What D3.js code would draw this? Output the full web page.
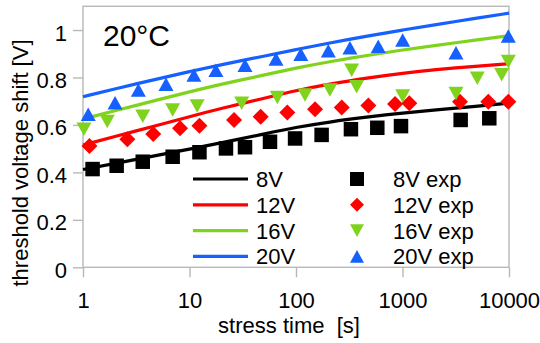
<!DOCTYPE html>
<html>
<head>
<meta charset="utf-8">
<script src="https://cdn.jsdelivr.net/npm/d3@7"></script>
<style>
  body { margin: 0; background: #fff; }
  svg { display: block; font-family: "Liberation Sans", Arial, sans-serif; }
</style>
</head>
<body>
<svg id="chart" width="540" height="343"></svg>
<script>
// measured points (stress time in s, shift in V)
const tExp8 = [1.23, 2.07, 3.64, 6.95, 12.4, 22, 33.2, 57, 98, 174, 328, 580, 968, 3516, 6530]
const vExp8 = [0.414, 0.428, 0.445, 0.466, 0.485, 0.501, 0.506, 0.529, 0.543, 0.558, 0.582, 0.588, 0.595, 0.621, 0.628]
const tExp12 = [1.15, 2.61, 4.57, 8.15, 12.4, 26.2, 46.6, 82.9, 151, 269, 478, 851, 1159, 3467, 6396, 9850]
const vExp12 = [0.511, 0.540, 0.562, 0.586, 0.597, 0.621, 0.635, 0.652, 0.666, 0.674, 0.682, 0.688, 0.691, 0.698, 0.698, 0.698]
const tExp16 = [1.02, 1.69, 3.64, 6.95, 11.8, 30.9, 66.8, 121.5, 208, 333, 371, 1004, 3178, 5037, 8536, 9850]
const vExp16 = [0.582, 0.614, 0.637, 0.663, 0.680, 0.691, 0.716, 0.726, 0.747, 0.831, 0.761, 0.722, 0.733, 0.797, 0.811, 0.867]
const tExp20 = [1.12, 2.0, 3.31, 6.02, 11.0, 17.7, 33.2, 64.9, 111, 201, 321, 592, 1004, 3178, 9850]
const vExp20 = [0.645, 0.693, 0.747, 0.772, 0.810, 0.831, 0.852, 0.878, 0.898, 0.913, 0.925, 0.932, 0.958, 0.904, 0.975]

// model curves
const tFit = [1, 2, 5, 10, 20, 50, 100, 200, 500, 1000, 2000, 5000, 10000]
const vFit8 = [0.412, 0.438, 0.472, 0.498, 0.525, 0.562, 0.59, 0.612, 0.635, 0.65, 0.663, 0.679, 0.692]
const vFit12 = [0.515, 0.552, 0.598, 0.635, 0.67, 0.712, 0.745, 0.772, 0.80, 0.818, 0.833, 0.848, 0.858]
const vFit16 = [0.625, 0.66, 0.705, 0.74, 0.772, 0.81, 0.84, 0.866, 0.895, 0.916, 0.935, 0.958, 0.976]
const vFit20 = [0.719, 0.752, 0.794, 0.825, 0.854, 0.89, 0.918, 0.944, 0.977, 1.0, 1.022, 1.05, 1.071]

const xTicks = [1, 10, 100, 1000, 10000]
const yTicks = [0, 0.2, 0.4, 0.6, 0.8, 1]
const lineLabels = ["8V", "12V", "16V", "20V"]
const expLabels = ["8V exp", "12V exp", "16V exp", "20V exp"]

const colors = ["#000000", "#ff0000", "#7fd31c", "#1560ff"]
const shapes = ["square", "diamond", "down", "up"]
const sizes = [14.5, 16, 15, 15]

const svg = d3.select("#chart")
const plotL = 83, plotR = 509, plotT = 6.3, plotB = 267.3

const x = d3.scaleLog().domain([1, 10000]).range([plotL, plotR])
const y = d3.scaleLinear().domain([0, 1.1]).range([plotB, plotT])

//frame
svg.append("rect")
  .attr("x", plotL).attr("y", plotT)
  .attr("width", plotR - plotL).attr("height", plotB - plotT)
  .attr("fill", "none").attr("stroke", "#b8b8b8").attr("stroke-width", 1.4)

const xAxis = svg.append("g")
  .attr("transform", `translate(0,${plotB})`)
  .call(d3.axisBottom(x).tickValues(xTicks).tickSize(10).tickFormat(d3.format("d")))
const yAxis = svg.append("g")
  .attr("transform", `translate(${plotL},0)`)
  .call(d3.axisLeft(y).tickValues(yTicks).tickSize(10).tickFormat(d3.format("~g")))

for (const ax of [xAxis, yAxis]) {
  ax.select(".domain").remove()
  ax.selectAll(".tick line").attr("stroke", "#b8b8b8").attr("stroke-width", 1.4)
  ax.selectAll(".tick text")
    .attr("fill", "#000")
    .style("font-size", "22px")
    .style("font-family", "'Liberation Sans', Arial, sans-serif")
}
xAxis.selectAll(".tick text").attr("y", 40.7).attr("dy", 0)
yAxis.selectAll(".tick text").attr("x", -16).attr("y", 10).attr("dy", 0)

// axis titles
svg.append("text")
  .attr("x", 289).attr("y", 333)
  .attr("text-anchor", "middle")
  .style("font-size", "22px")
  .style("white-space", "pre")
  .text("stress time  [s]")

svg.append("text")
  .attr("transform", "translate(28,163) rotate(-90)")
  .attr("text-anchor", "middle")
  .style("font-size", "22px")
  .text("threshold voltage shift [V]")

svg.append("text")
  .attr("x", 103).attr("y", 46)
  .style("font-size", "30px")
  .text("20°C")

// marker paths centred on their box
function markerPath(shape, s) {
  const h = s / 2
  if (shape === "square") return `M${-h},${-h}H${h}V${h}H${-h}Z`
  if (shape === "diamond") return `M0,${-h}L${h},0L0,${h}L${-h},0Z`
  if (shape === "down") return `M${-h},${-h * 0.9}L${h},${-h * 0.9}L0,${h * 0.9}Z`
  return `M${-h},${h * 0.9}L${h},${h * 0.9}L0,${-h * 0.9}Z`
}

const fits = [vFit8, vFit12, vFit16, vFit20]
const exps = [[tExp8, vExp8], [tExp12, vExp12], [tExp16, vExp16], [tExp20, vExp20]]

const line = d3.line()
  .x(d => x(d[0]))
  .y(d => y(d[1]))
  .curve(d3.curveBasis)

fits.forEach((vals, i) => {
  svg.append("path")
    .datum(tFit.map((t, j) => [t, vals[j]]))
    .attr("d", line)
    .attr("fill", "none")
    .attr("stroke", colors[i])
    .attr("stroke-width", 3.2)
})

exps.forEach(([ts, vs], i) => {
  svg.append("g")
    .selectAll("path")
    .data(ts.map((t, j) => [t, vs[j]]))
    .join("path")
      .attr("d", markerPath(shapes[i], sizes[i]))
      .attr("transform", d => `translate(${x(d[0])},${y(d[1])})`)
      .attr("fill", colors[i])
})

// legend
const legend = svg.append("g")
lineLabels.forEach((lab, i) => {
  const ry = 179 + i * 25.8
  legend.append("line")
    .attr("x1", 193).attr("x2", 248).attr("y1", ry).attr("y2", ry)
    .attr("stroke", colors[i]).attr("stroke-width", 3.2)
  legend.append("text")
    .attr("x", 256).attr("y", ry + 8)
    .style("font-size", "22px")
    .text(lab)
  legend.append("path")
    .attr("d", markerPath(shapes[i], 14))
    .attr("transform", `translate(357,${ry})`)
    .attr("fill", colors[i])
  legend.append("text")
    .attr("x", 393).attr("y", ry + 8)
    .style("font-size", "22px")
    .text(expLabels[i])
})
</script>
</body>
</html>
